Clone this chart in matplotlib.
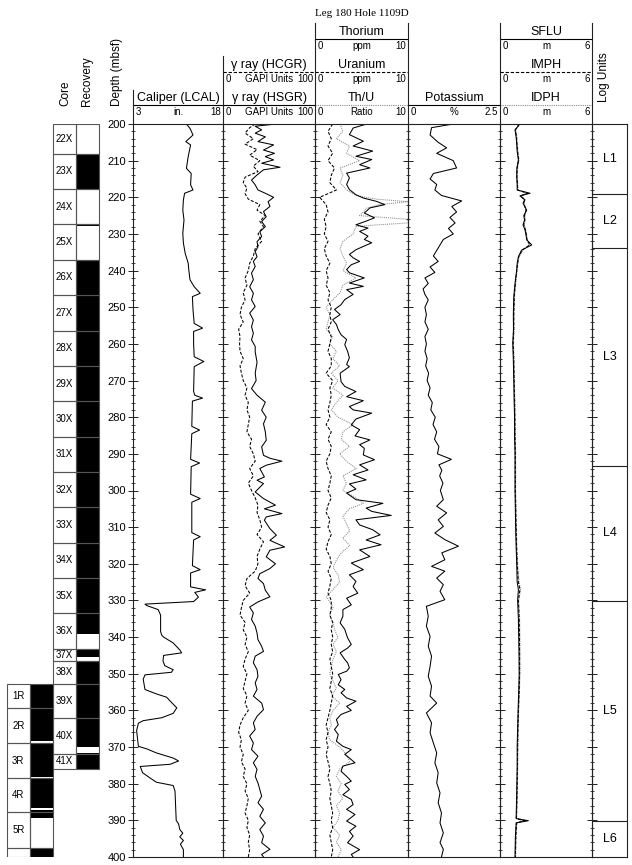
import numpy as np
import matplotlib
matplotlib.use('Agg')
import matplotlib.pyplot as plt
from matplotlib.patches import Rectangle

plt.rcParams['font.family'] = ['Liberation Sans', 'DejaVu Sans']

# ─── Core columns ────────────────────────────────────────────────────────────
CORE_X_NAMES = ['22X', '23X', '24X', '25X', '26X', '27X', '28X', '29X', '30X', '31X',
                '32X', '33X', '34X', '35X', '36X', '37X', '38X', '39X', '40X', '41X']
CORE_X_TOP = [198.6, 208.1, 217.75, 227.4, 237.05, 246.7, 256.35, 266.0, 275.65, 285.3,
              294.95, 304.6, 314.25, 323.9, 333.55, 343.3, 346.6, 352.7, 362.2, 371.8]
CORE_X_BOT = [208.1, 217.75, 227.4, 237.05, 246.7, 256.35, 266.0, 275.65, 285.3, 294.95,
              304.6, 314.25, 323.9, 333.55, 343.3, 346.6, 352.7, 362.2, 371.8, 375.9]
REC_X_TOP = [199.5, 208.1, 227.3, 237.05, 343.3, 346.6, 371.7]
REC_X_BOT = [200.4, 217.8, 227.8, 339.2, 345.5, 370.1, 375.9]

CORE_R_NAMES = ['1R', '2R', '3R', '4R', '5R', '']
CORE_R_TOP = [352.9, 359.4, 368.9, 378.5, 387.7, 397.5]
CORE_R_BOT = [359.4, 368.9, 378.5, 387.7, 397.5, 407.0]
REC_R_TOP = [352.9, 369.0, 378.6, 387.3, 397.5]
REC_R_BOT = [368.4, 378.1, 386.7, 389.4, 407.0]

# ─── Log units ───────────────────────────────────────────────────────────────
UNIT_NAMES = ['L1', 'L2', 'L3', 'L4', 'L5', 'L6']
UNIT_TOP = [200.0, 219.0, 233.9, 293.2, 330.1, 390.1]
UNIT_BOT = [219.0, 233.9, 293.2, 330.1, 390.1, 400.0]

# ─── Caliper (depth, in.) ────────────────────────────────────────────────────
CALIPER = [
    (200.0, 11.9), (201.2, 12.5), (203.0, 13.0), (204.8, 11.8), (205.7, 12.6), (208.9, 12.2), (212.1, 11.9),
    (213.5, 12.7), (216.6, 12.6), (218.0, 13.0), (218.9, 11.6), (220.7, 11.4), (223.5, 11.3), (226.2, 11.5),
    (229.8, 11.3), (232.5, 11.4), (235.3, 11.7), (238.0, 12.2), (239.8, 12.3), (242.5, 12.5), (244.4, 13.2),
    (246.2, 14.2), (247.1, 12.9), (250.7, 13.0), (254.4, 13.2), (255.7, 14.6), (256.6, 13.1), (259.8, 13.1),
    (263.5, 13.2), (264.8, 14.8), (266.2, 13.2), (273.0, 13.1), (274.0, 13.3), (274.8, 14.6), (275.6, 12.9),
    (282.5, 12.8), (283.5, 14.1), (284.5, 12.8), (291.5, 12.6), (292.5, 14.1), (293.5, 12.7), (301.0, 12.6),
    (302.2, 14.2), (303.2, 12.8), (311.5, 12.8), (312.6, 14.2), (313.5, 13.1), (320.5, 12.9), (321.6, 14.2),
    (322.5, 12.6), (326.3, 12.6), (327.1, 15.1), (327.8, 13.3), (329.1, 13.9), (330.3, 13.1), (331.0, 5.0),
    (331.4, 5.3), (332.5, 7.2), (334.0, 7.6), (338.5, 7.6), (339.5, 7.8), (340.0, 8.1), (341.6, 9.7),
    (343.5, 10.8), (344.3, 11.1), (345.0, 8.1), (346.5, 8.0), (347.8, 8.3), (348.9, 9.7), (349.6, 9.4),
    (350.3, 5.0), (351.5, 4.7), (354.3, 5.0), (355.5, 6.9), (356.4, 8.6), (357.8, 9.4), (359.3, 10.3),
    (360.8, 9.7), (362.0, 7.8), (362.8, 4.7), (363.5, 3.9), (365.5, 3.6), (369.8, 3.9), (370.5, 5.3),
    (371.6, 6.9), (373.0, 9.7), (373.8, 10.6), (374.7, 9.2), (375.3, 4.2), (377.0, 4.6), (378.4, 5.8),
    (379.6, 6.9), (380.5, 9.7), (382.0, 10.0), (390.0, 10.2), (391.0, 10.6), (392.5, 10.8), (393.5, 11.3),
    (394.5, 10.8), (395.5, 11.4), (396.5, 10.9), (398.0, 11.4), (400.0, 11.4),
]

# ─── Gamma ray (depth, GAPI) ─────────────────────────────────────────────────
HSGR = [
    (200.0, 58), (200.6, 35), (201.6, 42), (202.5, 35), (203.5, 46), (204.8, 38), (205.7, 55), (207.1, 44),
    (208.0, 56), (208.9, 46), (209.8, 55), (210.7, 42), (211.8, 62), (212.5, 44), (213.9, 37), (215.3, 31),
    (216.6, 35), (218.0, 38), (218.9, 46), (220.0, 55), (221.2, 49), (222.5, 51), (223.9, 44), (225.3, 47),
    (226.6, 42), (228.0, 46), (229.4, 40), (230.7, 42), (232.1, 37), (233.5, 38), (234.8, 35), (236.2, 37),
    (237.5, 33), (238.9, 35), (240.7, 31), (242.5, 33), (244.4, 29), (246.2, 33), (248.0, 31), (249.8, 35),
    (251.6, 29), (253.5, 33), (255.3, 31), (257.1, 33), (258.9, 31), (260.7, 35), (262.2, 35), (265.0, 37),
    (268.0, 35), (270.0, 36), (272.2, 31), (274.0, 37), (275.9, 46), (278.1, 42), (280.0, 47), (281.8, 44),
    (284.0, 46), (286.3, 47), (288.1, 42), (290.4, 44), (291.2, 51), (292.0, 64), (293.1, 47), (294.0, 40),
    (296.3, 45), (297.2, 37), (298.1, 44), (300.4, 35), (302.2, 44), (304.0, 57), (305.0, 45), (306.3, 64),
    (307.2, 47), (308.1, 45), (310.4, 51), (312.2, 58), (313.6, 51), (315.4, 67), (316.3, 51), (318.1, 47),
    (320.0, 57), (321.3, 51), (322.7, 40), (324.0, 38), (325.4, 44), (327.2, 46), (329.0, 51), (330.4, 38),
    (331.8, 29), (333.4, 33), (335.2, 31), (337.0, 35), (338.9, 37), (340.7, 38), (342.5, 42), (343.9, 44),
    (345.2, 35), (347.0, 33), (348.9, 37), (350.7, 38), (352.5, 35), (354.3, 37), (356.1, 33), (358.0, 42),
    (359.8, 44), (361.6, 37), (363.4, 33), (365.2, 35), (367.0, 29), (368.9, 33), (370.7, 31), (372.5, 38),
    (374.3, 33), (376.1, 37), (378.0, 35), (379.8, 38), (381.6, 40), (383.4, 42), (385.2, 38), (387.0, 44),
    (388.9, 40), (390.7, 46), (392.5, 40), (394.3, 44), (396.1, 42), (397.9, 51), (399.3, 42), (400.0, 44),
]
HCGR = [
    (200, 35), (201, 29), (202.5, 24), (204, 33), (205.5, 24), (207, 37), (208.5, 29), (210, 40), (211.5, 33),
    (213, 38), (214.5, 24), (216, 22), (217.5, 26), (219, 24), (220.5, 27.5), (222, 40), (223.5, 37), (225, 46),
    (226.5, 40), (228, 44), (230, 38), (232, 42), (234, 35), (236, 33), (238, 29), (240, 27.5), (242, 24),
    (244, 26), (246, 22), (248, 24), (250, 20), (252, 18.5), (254, 22), (256, 17), (258, 18.5), (260, 18),
    (262, 18.5), (264, 22), (266, 18.5), (268, 20), (270, 22), (272, 26), (274, 24), (276, 27.5), (278, 26),
    (280, 29), (282, 27.5), (284, 26), (286, 31), (288, 29), (290, 33), (292, 35), (294, 29), (296, 33),
    (298, 27.5), (300, 31), (302, 35), (304, 38), (306, 37), (308, 40), (310, 42), (312, 37), (314, 44),
    (316, 40), (318, 37), (320, 38), (322, 35), (324, 26), (326, 24), (328, 29), (330, 22), (332, 20),
    (334, 18.5), (336, 24), (338, 22), (340, 26), (342, 24), (344, 27.5), (346, 24), (348, 22), (350, 26),
    (352, 24), (354, 22), (356, 26), (358, 24), (360, 27.5), (362, 22), (364, 18.5), (366, 17), (368, 20),
    (370, 18.5), (372, 22), (374, 20), (376, 24), (378, 22), (380, 26), (382, 24), (384, 27.5), (386, 26),
    (388, 24), (390, 27.5), (392, 26), (394, 29), (396, 27.5), (398, 29), (400, 27.5),
]

# ─── Thorium (ppm), Uranium (ppm), Th/U ratio ────────────────────────────────
THORIUM = [
    (200.2, 5.3), (201.1, 4.1), (202.9, 3.7), (204.7, 5.2), (206.0, 4.1), (207.4, 6.2), (208.8, 4.4), (209.7, 6.1),
    (211.1, 4.8), (212.0, 5.9), (213.4, 3.4), (214.7, 3.7), (216.5, 3.4), (217.9, 3.7), (219.3, 4.4), (220.2, 5.2),
    (221.1, 6.6), (222.0, 7.5), (222.9, 5.9), (224.3, 5.3), (225.6, 6.4), (226.5, 5.5), (227.5, 4.4), (228.4, 5.7),
    (229.3, 4.8), (230.6, 5.7), (231.5, 5.3), (232.4, 6.1), (233.4, 5.2), (234.3, 4.4), (235.6, 3.7), (236.5, 4.1),
    (237.5, 4.8), (238.4, 3.9), (239.7, 3.4), (240.6, 3.7), (242.0, 5.3), (243.4, 3.7), (244.3, 5.2), (245.2, 3.4),
    (246.5, 4.1), (247.9, 3.2), (249.3, 2.8), (250.6, 2.1), (252.0, 2.7), (253.4, 1.9), (254.7, 2.3), (256.1, 2.5),
    (257.5, 2.8), (258.8, 3.4), (260.2, 3.2), (262.0, 3.5), (263.8, 3.7), (265.6, 3.4), (266.2, 3.7), (268.0, 2.7),
    (270.3, 2.8), (271.6, 3.2), (273.0, 4.4), (274.4, 3.4), (275.5, 5.2), (277.1, 3.7), (278.0, 4.1), (278.9, 6.1),
    (280.5, 4.4), (282.1, 3.9), (283.4, 4.8), (285.1, 4.3), (286.2, 5.9), (287.5, 4.8), (288.5, 5.3), (290.3, 5.2),
    (291.6, 6.4), (293.0, 4.8), (294.4, 5.7), (295.7, 4.1), (297.1, 5.5), (298.2, 3.7), (299.6, 4.4), (300.7, 3.4),
    (302.5, 4.4), (303.5, 7.3), (304.8, 5.5), (305.7, 6.1), (306.8, 8.2), (308.0, 4.4), (309.4, 4.8), (310.7, 6.2),
    (312.1, 7.0), (313.5, 5.5), (314.8, 7.1), (316.2, 4.8), (318.0, 5.9), (319.8, 3.9), (321.6, 5.2), (323.0, 3.7),
    (324.8, 4.4), (326.2, 4.1), (328.0, 4.6), (329.4, 3.4), (331.2, 3.9), (332.5, 3.0), (334.3, 3.0), (336.1, 2.7),
    (337.9, 3.2), (340.2, 3.5), (342.0, 3.9), (343.0, 3.5), (344.3, 2.7), (346.1, 3.2), (347.0, 3.5), (348.4, 3.7),
    (349.3, 3.4), (350.2, 2.5), (351.6, 2.8), (353.0, 2.5), (354.3, 3.2), (355.2, 2.8), (356.6, 3.4), (357.5, 4.4),
    (358.9, 3.4), (360.0, 3.9), (361.1, 2.8), (362.5, 2.3), (363.9, 2.5), (365.2, 2.1), (366.6, 2.5), (368.4, 2.3),
    (369.8, 3.0), (370.7, 3.9), (372.0, 3.2), (373.0, 3.7), (374.3, 4.3), (375.2, 3.0), (376.6, 2.8), (378.0, 3.4),
    (379.3, 3.9), (380.2, 3.2), (381.6, 3.7), (383.0, 3.0), (384.3, 3.9), (385.7, 4.1), (387.0, 3.4), (388.4, 4.3),
    (390.2, 3.4), (391.6, 4.4), (393.0, 3.7), (394.3, 4.1), (396.1, 3.5), (398.0, 4.8), (399.3, 3.9), (400.0, 4.1),
]
URANIUM_DEPTH = list(range(200, 401, 2))
URANIUM = [
    1.9, 1.4, 1.75, 1.4, 1.9, 1.4, 2.1, 1.75, 1.6, 2.3,
    0.5, 1.2, 1.4, 1.0, 1.2, 1.0, 1.4, 1.0, 1.2, 1.6,
    1.2, 1.4, 1.2, 1.6, 1.4, 1.75, 1.6, 1.75, 1.4, 1.75,
    1.6, 1.4, 1.75, 1.75, 1.2, 1.9, 1.6, 1.75, 1.6, 1.4,
    1.6, 1.2, 1.75, 1.4, 1.75, 1.6, 1.2, 1.4, 1.75, 1.6,
    1.4, 1.75, 1.4, 1.2, 1.6, 1.4, 1.75, 1.4, 1.2, 1.6,
    1.75, 1.4, 1.75, 1.6, 1.4, 1.75, 1.75, 1.6, 1.9, 1.75,
    1.9, 1.75, 1.9, 1.6, 1.75, 1.9, 1.75, 1.6, 1.9, 1.75,
    1.6, 1.4, 1.2, 1.4, 1.2, 1.4, 1.2, 1.4, 1.6, 1.4,
    1.6, 1.75, 1.6, 1.75, 1.9, 1.75, 1.9, 1.6, 1.75, 1.9,
    1.75,
]
TH_U = [
    (200, 2.7), (202, 3.0), (204, 2.3), (206, 3.7), (208, 3.4), (210, 4.8), (212, 2.7), (214, 3.0), (216, 2.7),
    (218, 3.4), (219.5, 4.4), (220.5, 6.6), (221.2, 10.0), (222, 6.9), (223, 5.5), (224, 5.2), (225, 4.8),
    (226, 10.0), (227, 10.0), (227.6, 6.2), (228, 4.4), (230, 4.1), (232, 3.0), (234, 2.7), (236, 3.0),
    (238, 3.4), (240, 3.0), (242, 4.4), (244, 3.0), (246, 2.7), (248, 1.9), (250, 1.2), (252, 1.6), (254, 1.4),
    (256, 1.2), (258, 1.9), (260, 1.6), (262, 2.3), (264, 1.9), (266, 2.65), (268, 1.75), (270, 2.47),
    (272, 1.9), (274, 3.0), (276, 2.3), (278, 1.75), (280, 2.47), (282, 4.1), (284, 3.0), (286, 2.83),
    (288, 3.7), (290, 2.65), (292, 3.37), (294, 4.44), (296, 3.0), (298, 3.37), (300, 3.0), (302, 4.44),
    (303.5, 5.2), (305, 3.7), (307, 3.0), (309, 3.37), (311, 3.73), (313, 3.0), (315, 3.73), (317, 2.83),
    (319, 2.3), (321, 1.94), (323, 2.47), (325, 2.65), (327, 1.94), (329, 1.22), (331, 1.76), (332, 1.94),
    (334, 1.58), (336, 1.94), (338, 2.1), (340, 2.47), (342, 1.94), (344, 2.3), (346, 1.94), (348, 1.76),
    (350, 1.58), (352, 1.94), (354, 2.3), (356, 1.76), (358, 2.65), (360, 1.94), (362, 1.58), (364, 1.76),
    (366, 1.4), (368, 1.58), (370, 2.65), (372, 3.37), (374, 3.73), (376, 2.65), (378, 2.3), (380, 2.83),
    (382, 2.47), (384, 3.0), (386, 2.3), (388, 2.65), (390, 2.47), (392, 1.94), (394, 2.65), (396, 2.3),
    (398, 2.83), (400, 2.47),
]

# ─── Potassium (depth, %) ────────────────────────────────────────────────────
POTASSIUM = [
    (200, 1.23), (201, 0.64), (203, 0.6), (205, 0.82), (206.5, 1.05), (208, 0.78), (210, 1.23), (212, 1.32),
    (213.5, 0.69), (215, 0.6), (216.5, 0.78), (218, 0.73), (219.5, 0.91), (221, 1.46), (222.5, 1.19),
    (224, 1.32), (225.5, 1.14), (227, 1.28), (228.5, 1.1), (230, 1.23), (231.5, 0.96), (233, 0.87),
    (234.5, 0.78), (236, 0.69), (237.5, 0.82), (239, 0.6), (240.5, 0.73), (242, 0.46), (243.5, 0.55),
    (245, 0.41), (246.5, 0.46), (248, 0.55), (250, 0.46), (252, 0.5), (254, 0.46), (256, 0.55), (258, 0.46),
    (260, 0.5), (262, 0.46), (264, 0.52), (266, 0.48), (268, 0.56), (270, 0.52), (272, 0.6), (274, 0.55),
    (276, 0.66), (278, 0.62), (280, 0.74), (282, 0.68), (284, 0.78), (286, 0.72), (288, 0.84), (290, 0.8),
    (291.5, 1.18), (293, 0.84), (294.5, 0.92), (296, 0.86), (298, 0.95), (300, 0.88), (302.5, 0.96),
    (304.3, 0.78), (306.1, 1.05), (308, 0.82), (309.8, 0.96), (311.6, 0.73), (313.4, 1.0), (315.2, 1.37),
    (317, 0.92), (318.9, 1.0), (320.7, 0.64), (322, 1.0), (323.9, 0.78), (325.7, 0.96), (327.5, 0.87),
    (329.8, 1.0), (331.6, 0.5), (334.3, 0.55), (337, 0.5), (339.8, 0.6), (342.5, 0.55), (345.2, 0.64),
    (348, 0.6), (350.7, 0.55), (353.4, 0.64), (356.1, 0.6), (358, 0.78), (360.7, 0.5), (363.4, 0.64),
    (366.1, 0.6), (368.9, 0.69), (371.6, 0.78), (374.3, 0.73), (377, 0.82), (379.8, 0.78), (382.5, 0.87),
    (385.2, 0.82), (388, 0.91), (390.7, 0.87), (393.4, 0.96), (396.1, 0.87), (397.9, 0.96), (400, 0.91),
]

# ─── Resistivity (ohm m) ─────────────────────────────────────────────────────
RES_DEPTH = [200, 201.6, 203.5, 205.3, 207.5, 209.8, 212, 214.4, 216.5, 218,
             218.9, 219.6, 220.7, 221.6, 223.5, 225, 226.2, 227.5, 228.9, 230.3,
             231.6, 233, 234.4, 236.2, 238, 239.8, 243.5, 247.1, 252, 256,
             259.8, 264.4, 270, 275, 280, 285, 290, 295, 300, 305,
             310, 315, 320, 325, 327, 330, 335, 340, 345, 350,
             355, 360, 365, 370, 375, 380, 385, 389.5, 390.1, 390.7,
             395, 400]
SFLU = [1.3, 0.98, 1.05, 1.09, 1.12, 1.2, 1.1, 1.09, 1.12, 1.12,
        1.96, 1.3, 1.63, 1.5, 1.74, 1.55, 1.6, 1.5, 1.63, 1.7,
        1.74, 2.07, 1.41, 1.2, 1.12, 1.09, 0.98, 0.9, 0.87, 0.88,
        0.83, 0.87, 0.9, 0.92, 0.95, 0.95, 0.98, 0.98, 0.98, 1.0,
        1.02, 1.05, 1.09, 1.12, 1.2, 1.15, 1.2, 1.22, 1.24, 1.25,
        1.22, 1.18, 1.15, 1.12, 1.12, 1.1, 1.08, 1.05, 1.85, 1.05,
        1.0, 0.98]
IMPH = [1.25, 1.0, 1.08, 1.1, 1.15, 1.22, 1.12, 1.1, 1.14, 1.15,
        1.8, 1.35, 1.6, 1.55, 1.7, 1.6, 1.62, 1.55, 1.66, 1.72,
        1.76, 1.95, 1.45, 1.22, 1.15, 1.1, 1.0, 0.93, 0.9, 0.9,
        0.86, 0.9, 0.92, 0.95, 0.97, 0.98, 1.0, 1.0, 1.0, 1.03,
        1.05, 1.08, 1.12, 1.2, 1.3, 1.2, 1.25, 1.27, 1.28, 1.28,
        1.25, 1.2, 1.17, 1.15, 1.14, 1.12, 1.1, 1.07, 1.6, 1.08,
        1.03, 1.0]
IDPH = [1.28, 1.02, 1.1, 1.12, 1.17, 1.24, 1.15, 1.12, 1.16, 1.17,
        1.7, 1.4, 1.58, 1.57, 1.68, 1.62, 1.64, 1.58, 1.68, 1.74,
        1.78, 1.9, 1.5, 1.25, 1.17, 1.12, 1.02, 0.95, 0.92, 0.92,
        0.88, 0.92, 0.94, 0.97, 0.99, 1.0, 1.02, 1.02, 1.02, 1.05,
        1.07, 1.1, 1.15, 1.24, 1.35, 1.22, 1.28, 1.3, 1.3, 1.3,
        1.27, 1.22, 1.19, 1.17, 1.16, 1.14, 1.12, 1.09, 1.5, 1.1,
        1.05, 1.02]

# ─── Layout (pixels) ─────────────────────────────────────────────────────────
W, H = 632, 865
TOP, BOT = 124, 857
EDGE = '#222222'
GRAY = '#8a8a8a'
DASH = (0, (3, 1.6))
DOT = (0, (1, 1))
LW = 0.75

fig = plt.figure(figsize=(W / 100, H / 100), dpi=100)
fig.patch.set_facecolor('white')

# header canvas in pixel coordinates
hdr = fig.add_axes([0, 0, 1, 1])
hdr.set_xlim(0, W)
hdr.set_ylim(H, 0)
hdr.axis('off')


def track(x0, x1, xlim, labels=False):
    ax = fig.add_axes([x0 / W, 1 - BOT / H, (x1 - x0) / W, (BOT - TOP) / H])
    ax.set_ylim(400, 200)
    ax.set_xlim(*xlim)
    ax.set_xticks([])
    ax.set_yticks(np.arange(200, 401, 10))
    ax.set_yticks(np.arange(200, 401, 2), minor=True)
    ax.tick_params(axis='y', which='major', direction='inout', length=6.5, width=0.7,
                   color=EDGE, labelleft=labels, labelsize=8, pad=2)
    ax.tick_params(axis='y', which='minor', direction='inout', length=3.5, width=0.6, color=EDGE)
    ax.patch.set_alpha(0)
    for s in ax.spines.values():
        s.set_color(EDGE)
        s.set_linewidth(0.8)
    return ax


def curve(ax, pairs, **kw):
    d, v = np.array(pairs, dtype=float).T
    ax.plot(v, d, lw=LW, **kw)


# ── core / recovery columns ──
cax = fig.add_axes([0, 1 - BOT / H, 133 / W, (BOT - TOP) / H])
cax.set_xlim(0, 133)
cax.set_ylim(400, 200)
cax.axis('off')

for names, tops, bots, rtop, rbot, xl, xr in [
        (CORE_X_NAMES, CORE_X_TOP, CORE_X_BOT, REC_X_TOP, REC_X_BOT, 52.7, 75.7),
        (CORE_R_NAMES, CORE_R_TOP, CORE_R_BOT, REC_R_TOP, REC_R_BOT, 6.7, 30.0)]:
    wcol = xr - xl
    for t, b in zip(rtop, rbot):
        t, b = max(t, 200), min(b, 400)
        cax.add_patch(Rectangle((xr, t), wcol, b - t, facecolor='black', lw=0))
    for name, t, b in zip(names, tops, bots):
        t, b = max(t, 200), min(b, 400)
        cax.add_patch(Rectangle((xl, t), wcol, b - t, fill=False, ec='#555555', lw=0.8))
        cax.add_patch(Rectangle((xr, t), wcol, b - t, fill=False, ec='#555555', lw=0.8))
        cax.text(xl + wcol / 2, (t + b) / 2, name, ha='center', va='center', fontsize=7)

# ── tracks ──
ax_cal = track(133, 223, (3, 18), labels=True)
curve(ax_cal, CALIPER, color='black')

ax_gr = track(223, 315, (0, 100))
curve(ax_gr, HCGR, color='black', ls=DASH)
curve(ax_gr, HSGR, color='black')

ax_th = track(315, 408, (0, 10))
curve(ax_th, TH_U, color=GRAY, ls=DOT)
ax_th.plot(URANIUM, URANIUM_DEPTH, color='black', lw=LW, ls=DASH)
curve(ax_th, THORIUM, color='black')

ax_k = track(408, 500, (0, 2.5))
curve(ax_k, POTASSIUM, color='black')

ax_res = track(500, 592, (0, 6))
ax_res.plot(IDPH, RES_DEPTH, color=GRAY, lw=LW, ls=DOT)
ax_res.plot(IMPH, RES_DEPTH, color='black', lw=LW, ls=DASH)
ax_res.plot(SFLU, RES_DEPTH, color='black', lw=LW)

ax_u = track(592, 627, (0, 1))
ax_u.tick_params(axis='y', which='both', right=False)
for name, t, b in zip(UNIT_NAMES, UNIT_TOP, UNIT_BOT):
    if b < 400:
        ax_u.axhline(b, color=EDGE, lw=0.8)
    ax_u.text(0.5, (t + b) / 2, name, ha='center', va='center', fontsize=9)

# ── headers ──
HEADERS = [
    (133, 223, 98, 'Caliper (LCAL)', '-', 'black', '3', 'in.', '18'),
    (223, 315, 65, 'γ ray (HCGR)', DASH, 'black', '0', 'GAPI Units', '100'),
    (223, 315, 98, 'γ ray (HSGR)', '-', 'black', '0', 'GAPI Units', '100'),
    (315, 408, 32, 'Thorium', '-', 'black', '0', 'ppm', '10'),
    (315, 408, 65, 'Uranium', DASH, 'black', '0', 'ppm', '10'),
    (315, 408, 98, 'Th/U', DOT, GRAY, '0', 'Ratio', '10'),
    (408, 500, 98, 'Potassium', '-', 'black', '0', '%', '2.5'),
    (500, 592, 32, 'SFLU', '-', 'black', '0', 'm', '6'),
    (500, 592, 65, 'IMPH', DASH, 'black', '0', 'm', '6'),
    (500, 592, 98, 'IDPH', DOT, GRAY, '0', 'm', '6'),
]
for x0, x1, yt, title, ls, lc, lo, unit, hi in HEADERS:
    hdr.text((x0 + x1) / 2, yt, title, ha='center', va='center', fontsize=9)
    hdr.plot([x0, x1], [yt + 7, yt + 7], ls=ls, color=lc, lw=0.8)
    hdr.text(x0 + 3, yt + 14, lo, ha='left', va='center', fontsize=7)
    hdr.text((x0 + x1) / 2, yt + 14, unit, ha='center', va='center', fontsize=7)
    hdr.text(x1 - 2, yt + 14, hi, ha='right', va='center', fontsize=7)

for x, ytop in [(133, 90), (223, 56), (315, 23), (408, 23), (500, 23), (592, 23)]:
    hdr.plot([x, x], [ytop, TOP], color=EDGE, lw=0.8)

hdr.text(315, 13, 'Leg 180 Hole 1109D', ha='left', va='center', fontsize=8,
         family=['Liberation Serif', 'DejaVu Serif'])
hdr.text(65, 106, 'Core', rotation=90, ha='center', va='bottom', fontsize=8.5)
hdr.text(87, 106, 'Recovery', rotation=90, ha='center', va='bottom', fontsize=8.5)
hdr.text(117, 106, 'Depth (mbsf)', rotation=90, ha='center', va='bottom', fontsize=8.5)
hdr.text(604, 102, 'Log Units', rotation=90, ha='center', va='bottom', fontsize=8.5)

fig.savefig('out.png', dpi=100, facecolor='white')
